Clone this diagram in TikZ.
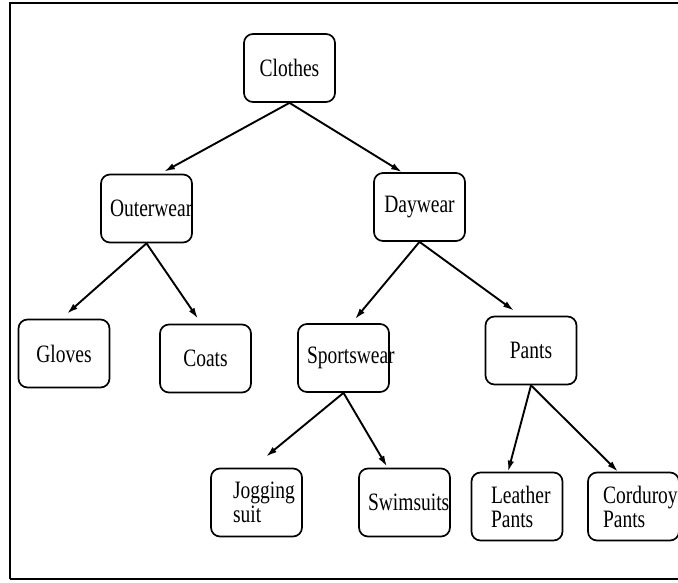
\documentclass[tikz,border=0pt]{standalone}
\usepackage{fontspec}
\setmainfont[FakeStretch=0.78]{Liberation Serif}
\usetikzlibrary{arrows.meta,calc}
\begin{document}
\begin{tikzpicture}[x=1pt,y=-1pt,
  box/.style={draw, line width=1.7pt, rounded corners=9pt,
    minimum width=91pt, minimum height=68pt, inner xsep=9pt, inner ysep=0pt,
    text width=73pt, align=center, font=\fontsize{25}{24}\selectfont},
  box2/.style={box, align=left},
  arr/.style={line width=1.9pt, -{Latex[length=11pt,width=6.5pt]}},
  frame/.style={line width=1.8pt}]
\useasboundingbox (0,0) rectangle (678,582);
\draw[frame] (678,3) -- (10,3) -- (10,579);
\draw[line width=1.2pt] (10,579) -- (678,579);

\node[box] (clothes) at (289.5,68) {Clothes};
\node[box] (outer) at (146.5,208.5) {Outerwear};
\node[box] (day) at (419.5,207) {Daywear};
\node[box] (gloves) at (64,353.5) {Gloves};
\node[box] (coats) at (205.5,358.5) {Coats};
\node[box] (sports) at (343.5,358) {Sportswear};
\node[box] (pants) at (531,350.5) {Pants};
\node[box2, text width=47pt] (jog) at (256.5,502.5) {Jogging\\suit};
\node[box] (swim) at (404.5,502.5) {Swimsuits};
\node[box2, text width=52pt] (leather) at (517,506.5) {Leather\\Pants};
\node[box2, text width=61pt] (cord) at (633.5,506.5) {Corduroy\\Pants};

\draw[arr] (clothes.south) -- ($(outer.north)+(17.5,-2)$);
\draw[arr] (clothes.south) -- ($(day.north)+(-17.5,0)$);
\draw[arr] (outer.south) -- ($(gloves.north)+(3,-5)$);
\draw[arr] (outer.south) -- ($(coats.north)+(-7.5,-5)$);
\draw[arr] (day.south) -- ($(sports.north)+(11.5,-4)$);
\draw[arr] (day.south) -- ($(pants.north)+(-17,-5)$);
\draw[arr] (sports.south) -- ($(jog.north)+(9.5,-11)$);
\draw[arr] (sports.south) -- ($(swim.north)+(-17.5,-1)$);
\draw[arr] (pants.south) -- ($(leather.north)+(-9,0)$);
\draw[arr] (pants.south) -- ($(cord.north)+(-15.5,0)$);
\end{tikzpicture}
\end{document}
